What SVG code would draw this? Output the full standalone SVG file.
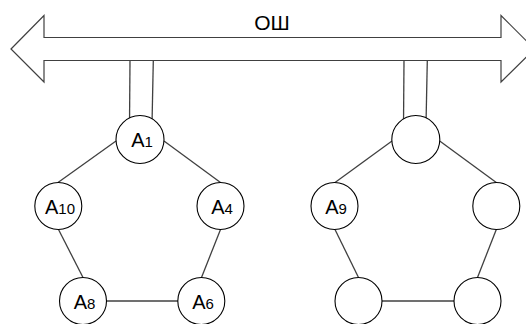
<svg xmlns="http://www.w3.org/2000/svg" width="526" height="324" viewBox="0 0 526 324">
<style>
.bus{fill:#fff;stroke:#404040;stroke-width:1.2}
.edge{stroke:#404040;stroke-width:1.3;fill:none}
.node circle{fill:#fff;stroke:#000;stroke-width:1.1}
.lbl{font-family:"Liberation Sans",Arial,sans-serif;font-size:20px;fill:#000;text-anchor:middle}
.sub{font-size:15px}
.title{font-family:"Liberation Sans",Arial,sans-serif;font-size:21px;fill:#000;text-anchor:middle}
</style>
<rect width="526" height="324" fill="#fff"/>
<g id="bus">
<polygon class="bus" points="11,49 44,15.5 44,37.5 501,37.5 501,15.5 534.5,49 501,82 501,60.5 44,60.5 44,82"/>
<text class="title" x="272" y="29.5">ОШ</text>
</g>
<g id="connectors">
<line class="edge" x1="130" y1="60.5" x2="129.5" y2="125"/>
<line class="edge" x1="153.3" y1="60.5" x2="152" y2="125"/>
<line class="edge" x1="404" y1="60.5" x2="403.5" y2="125"/>
<line class="edge" x1="427.3" y1="60.5" x2="426" y2="125"/>
<line class="edge" x1="116" y1="141" x2="58" y2="182.5"/>
<line class="edge" x1="164" y1="141" x2="220.5" y2="182.5"/>
<line class="edge" x1="58.5" y1="229.5" x2="83" y2="277.5"/>
<line class="edge" x1="220.5" y1="229.5" x2="201.5" y2="277.5"/>
<line class="edge" x1="106.5" y1="301" x2="178" y2="301"/>
<line class="edge" x1="392" y1="141" x2="335" y2="182.5"/>
<line class="edge" x1="439.7" y1="141" x2="496.3" y2="182.5"/>
<line class="edge" x1="335" y1="229.5" x2="358.5" y2="277.5"/>
<line class="edge" x1="496.3" y1="229.5" x2="477.5" y2="277.5"/>
<line class="edge" x1="382" y1="301" x2="454" y2="301"/>
</g>
<g id="A1" class="node"><circle cx="140" cy="139.5" r="24"/><text class="lbl" x="142" y="147">A<tspan class="sub">1</tspan></text></g>
<g id="A10" class="node"><circle cx="58.3" cy="206" r="23.5"/><text class="lbl" x="60" y="213.5">A<tspan class="sub">10</tspan></text></g>
<g id="A4" class="node"><circle cx="220.5" cy="206" r="23.5"/><text class="lbl" x="222" y="213.5">A<tspan class="sub">4</tspan></text></g>
<g id="A8" class="node"><circle cx="83" cy="301" r="23.5"/><text class="lbl" x="84.5" y="308.5">A<tspan class="sub">8</tspan></text></g>
<g id="A6" class="node"><circle cx="201.3" cy="301" r="23.5"/><text class="lbl" x="203" y="308.5">A<tspan class="sub">6</tspan></text></g>
<g id="B1" class="node"><circle cx="415.8" cy="139.5" r="24"/></g>
<g id="A9" class="node"><circle cx="334.5" cy="206" r="23.5"/><text class="lbl" x="336" y="213.5">A<tspan class="sub">9</tspan></text></g>
<g id="B3" class="node"><circle cx="496.3" cy="206" r="23.5"/></g>
<g id="B4" class="node"><circle cx="358.5" cy="301" r="23.5"/></g>
<g id="B5" class="node"><circle cx="477.5" cy="301" r="23.5"/></g>
</svg>
